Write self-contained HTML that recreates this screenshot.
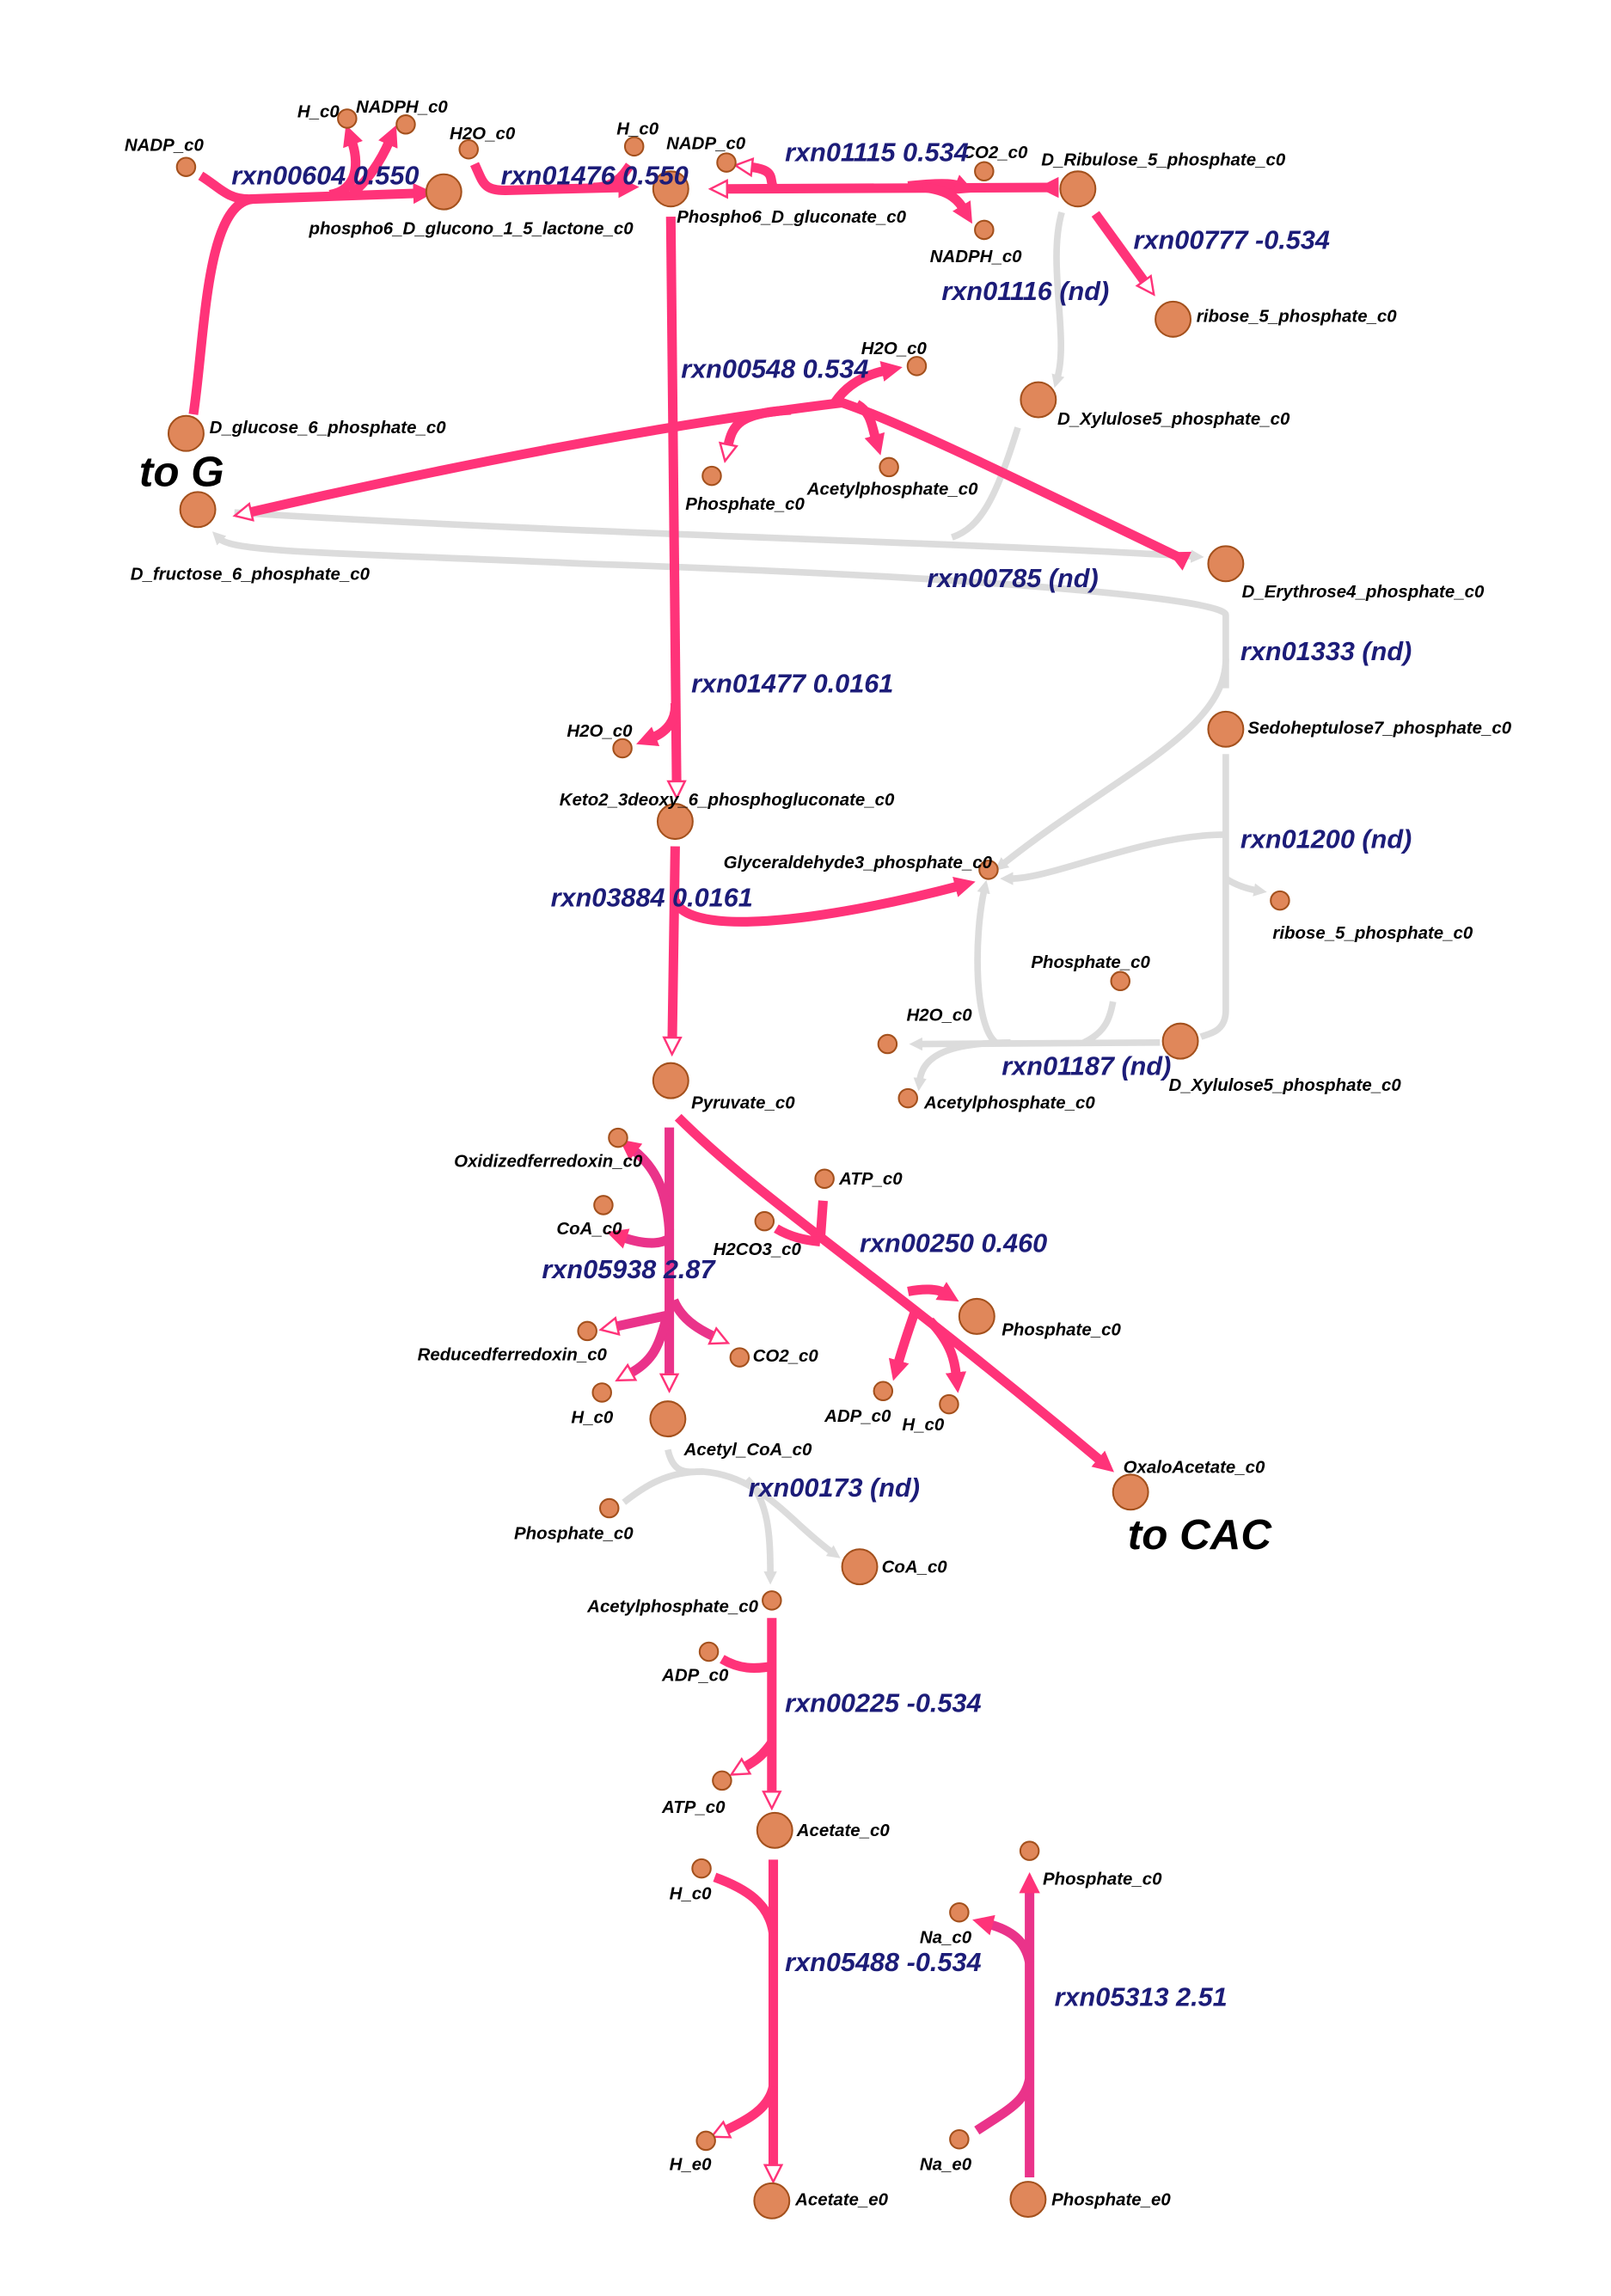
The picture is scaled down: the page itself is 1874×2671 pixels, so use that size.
<!DOCTYPE html>
<html><head><meta charset="utf-8"><style>
html,body{margin:0;padding:0;background:#fff;}
svg{display:block;}
.nl{font-family:"Liberation Sans Narrow","Liberation Sans",sans-serif;font-weight:bold;font-style:italic;font-size:12px;fill:#000;}
.rl{font-family:"Liberation Sans",sans-serif;font-weight:bold;font-style:italic;font-size:18px;fill:#1c1c78;}
.big{font-family:"Liberation Sans",sans-serif;font-weight:bold;font-style:italic;font-size:29px;fill:#000;}
.p{fill:none;stroke:#ff3379;stroke-width:6.5;stroke-linecap:butt;}
.p2{fill:none;stroke:#ea338a;stroke-width:6.5;}
.g{fill:none;stroke:#dcdcdc;stroke-width:4.5;}
</style></head><body>
<svg id="net" width="1874" height="2671" viewBox="0 0 1100 1568" xmlns="http://www.w3.org/2000/svg">
<defs>
<marker id="ap" viewBox="0 0 10 10" refX="2" refY="5" markerWidth="2.2" markerHeight="2.2" orient="auto"><path d="M0,0L10,5L0,10z" fill="#ff3379"/></marker>
<marker id="ah" viewBox="0 0 10 10" refX="2" refY="5" markerWidth="2.2" markerHeight="2.2" orient="auto"><path d="M1,1L9,5L1,9z" fill="#fff" stroke="#ff3379" stroke-width="1"/></marker>
<marker id="ag" viewBox="0 0 10 10" refX="2" refY="5" markerWidth="2" markerHeight="2" orient="auto"><path d="M0,0L10,5L0,10z" fill="#dcdcdc"/></marker>
</defs>
<g>
<path class="g" d="M725,145 C715,180 730,230 722,258" marker-end="url(#ag)"/>
<path class="g" d="M160,350 C400,365 650,370 815,380" marker-end="url(#ag)"/>
<path class="g" d="M695,292 C680,340 670,360 650,367"/>
<path class="g" d="M837,470 L837,420 C837,410 700,395 400,385 C250,378 160,378 150,368" marker-end="url(#ag)"/>
<path class="g" d="M837,450 C837,500 760,530 685,590" marker-end="url(#ag)"/>
<path class="g" d="M837,515 L837,690 C837,705 825,706 820,708" />
<path class="g" d="M837,570 C780,570 720,600 690,600" marker-end="url(#ag)"/>
<path class="g" d="M837,600 C845,605 852,607 858,608" marker-end="url(#ag)"/>
<path class="g" d="M792,712 L628,713" marker-end="url(#ag)"/>
<path class="g" d="M680,712 C665,700 665,640 672,608" marker-end="url(#ag)"/>
<path class="g" d="M740,712 C755,705 758,695 760,684"/>
<path class="g" d="M690,712 C650,712 630,720 628,738" marker-end="url(#ag)"/>
<path class="g" d="M456,990 C460,1008 470,1005 480,1005 C520,1008 540,1040 568,1060" marker-end="url(#ag)"/>
<path class="g" d="M426,1026 C440,1015 455,1005 480,1005"/>
<path class="g" d="M510,1010 C525,1025 526,1050 526,1075" marker-end="url(#ag)"/>
</g>
<g>
<path class="p" d="M137,120 C150,128 155,136 170,136 L285,132" marker-end="url(#ap)"/>
<path class="p" d="M132,283 C140,230 140,140 172,136"/>
<path class="p" d="M225,133 C245,130 245,110 240,96" marker-end="url(#ap)"/>
<path class="p" d="M240,132 C250,125 260,110 266,96" marker-end="url(#ap)"/>
<path class="p" d="M324,112 C330,125 330,130 345,130 L425,128" marker-end="url(#ap)"/>
<path class="p" d="M405,128 C420,128 425,120 430,113" />
<path class="p" d="M720,128 L495,129" marker-start="url(#ap)" marker-end="url(#ah)"/>
<path class="p" d="M528,128 C525,122 530,116 512,114" marker-end="url(#ah)"/>
<path class="p" d="M620,127 C640,125 650,125 655,127" marker-end="url(#ap)"/>
<path class="p" d="M630,128 C650,130 655,138 658,143" marker-end="url(#ap)"/>
<path class="p" d="M748,146 L782,193" marker-end="url(#ah)"/>
<path class="p" d="M458,148 L462,535" marker-end="url(#ah)"/>
<path class="p" d="M461,480 C462,492 455,500 445,504" marker-end="url(#ap)"/>
<path class="p" d="M808,382 C720,340 620,290 575,275 C450,290 300,320 170,350" marker-start="url(#ap)" marker-end="url(#ah)"/>
<path class="p" d="M570,275 C580,260 595,255 605,253" marker-end="url(#ap)"/>
<path class="p" d="M540,280 C505,282 500,290 497,305" marker-end="url(#ah)"/>
<path class="p" d="M585,276 C595,282 595,290 598,300" marker-end="url(#ap)"/>
<path class="p" d="M461,578 L459,710" marker-end="url(#ah)"/>
<path class="p" d="M461,615 C470,640 560,630 655,605" marker-end="url(#ap)"/>
<path class="p2" d="M457,770 L457,940" marker-end="url(#ah)"/>
<path class="p2" d="M457,840 C455,810 445,795 432,785" marker-end="url(#ap)"/>
<path class="p2" d="M457,846 C450,850 440,850 425,845" marker-end="url(#ap)"/>
<path class="p2" d="M457,898 L420,906" marker-end="url(#ah)"/>
<path class="p2" d="M455,900 C450,920 445,930 430,938" marker-end="url(#ah)"/>
<path class="p2" d="M460,888 C465,900 475,907 488,913" marker-end="url(#ah)"/>
<path class="p" d="M463,763 C520,820 600,870 752,998" marker-end="url(#ap)"/>
<path class="p" d="M562,820 L560,848"/>
<path class="p" d="M530,839 C540,845 550,847 560,848"/>
<path class="p" d="M620,882 C630,880 640,880 645,883" marker-end="url(#ap)"/>
<path class="p" d="M625,895 C618,915 615,925 613,932" marker-end="url(#ap)"/>
<path class="p" d="M635,902 C650,918 652,930 653,940" marker-end="url(#ap)"/>
<path class="p" d="M527,1105 L527,1225" marker-end="url(#ah)"/>
<path class="p" d="M493,1133 C505,1140 515,1140 527,1138"/>
<path class="p" d="M527,1190 C520,1200 515,1203 508,1207" marker-end="url(#ah)"/>
<path class="p" d="M528,1270 L528,1480" marker-end="url(#ah)"/>
<path class="p" d="M488,1282 C510,1290 525,1300 528,1320"/>
<path class="p" d="M528,1425 C525,1440 510,1448 495,1455" marker-end="url(#ah)"/>
<path class="p2" d="M703,1487 L703,1290" marker-end="url(#ap)"/>
<path class="p2" d="M667,1455 C690,1440 700,1435 703,1420"/>
<path class="p2" d="M703,1340 C700,1325 690,1318 675,1314" marker-end="url(#ap)"/>
</g>
<g id="nodes"></g>
<g id="rxns"></g>
<text class="big" x="95" y="332">to G</text>
<text class="big" x="770" y="1058">to CAC</text>
</svg>
<script>
const nodeNames=["NADP_c0","H_c0","NADPH_c0","H2O_c0","phospho6_D_glucono_1_5_lactone_c0","H_c0","NADP_c0","Phospho6_D_gluconate_c0","CO2_c0","NADPH_c0","D_Ribulose_5_phosphate_c0","ribose_5_phosphate_c0","H2O_c0","D_Xylulose5_phosphate_c0","Phosphate_c0","Acetylphosphate_c0","D_glucose_6_phosphate_c0","D_fructose_6_phosphate_c0","D_Erythrose4_phosphate_c0","Sedoheptulose7_phosphate_c0","H2O_c0","Keto2_3deoxy_6_phosphogluconate_c0","Glyceraldehyde3_phosphate_c0","ribose_5_phosphate_c0","Phosphate_c0","H2O_c0","Acetylphosphate_c0","D_Xylulose5_phosphate_c0","Pyruvate_c0","Oxidizedferredoxin_c0","CoA_c0","ATP_c0","H2CO3_c0","Phosphate_c0","Reducedferredoxin_c0","CO2_c0","H_c0","Acetyl_CoA_c0","ADP_c0","H_c0","OxaloAcetate_c0","Phosphate_c0","CoA_c0","Acetylphosphate_c0","ADP_c0","ATP_c0","Acetate_c0","H_c0","Na_c0","Phosphate_c0","H_e0","Acetate_e0","Na_e0","Phosphate_e0"];
const nodePos=[[127,114],[237,81],[277,85],[320,102],[303,131],[433,100],[496,111],[458,129],[672,117],[672,157],[736,129],[801,218],[626,250],[709,273],[486,325],[607,319],[127,296],[135,348],[837,385],[837,498],[425,511],[461,561],[675,594],[874,615],[765,670],[606,713],[620,750],[806,711],[458,738],[422,777],[412,823],[563,805],[522,834],[667,899],[401,909],[505,927],[411,951],[456,969],[603,950],[648,959],[772,1019],[416,1030],[587,1070],[527,1093],[484,1128],[493,1216],[529,1250],[479,1276],[655,1306],[703,1264],[482,1462],[527,1503],[655,1461],[702,1502]];
const nodeBig=[0,0,0,0,1,0,0,1,0,0,1,1,0,1,0,0,1,1,1,1,0,1,0,0,0,0,0,1,1,0,0,0,0,1,0,0,0,1,0,0,1,0,1,0,0,0,1,0,0,0,0,1,0,1];
const labelPos=[[85,100],[203,77],[243,74],[307,92],[211,157],[421,89],[455,99],[462,149],[657,105],[635,176],[711,110],[817,217],[588,239],[722,287],[468,345],[551,335],[143,293],[89,393],[848,405],[852,498],[387,500],[382,547],[494,590],[869,638],[704,658],[619,694],[631,754],[798,742],[472,754],[310,794],[380,840],[573,806],[487,854],[684,909],[285,926],[514,927],[390,969],[467,991],[563,968],[616,974],[767,1003],[351,1048],[602,1071],[401,1098],[452,1145],[452,1235],[544,1251],[457,1294],[628,1324],[712,1284],[457,1479],[543,1503],[628,1479],[718,1503]];
const rxnText=["rxn00604 0.550","rxn01476 0.550","rxn01115 0.534","rxn00777 -0.534","rxn01116 (nd)","rxn00548 0.534","rxn00785 (nd)","rxn01333 (nd)","rxn01477 0.0161","rxn01200 (nd)","rxn03884 0.0161","rxn01187 (nd)","rxn00250 0.460","rxn05938 2.87","rxn00173 (nd)","rxn00225 -0.534","rxn05488 -0.534","rxn05313 2.51"];
const rxnPos=[[158,126],[342,126],[536,110],[774,170],[643,205],[465,258],[633,401],[847,451],[472,473],[847,579],[376,619],[684,734],[587,855],[370,873],[511,1022],[536,1169],[536,1346],[720,1370]];
const NS="http://www.w3.org/2000/svg";
const ng=document.getElementById('nodes');
nodeNames.forEach((n,i)=>{
  const c=document.createElementNS(NS,'circle');
  c.setAttribute('cx',nodePos[i][0]);c.setAttribute('cy',nodePos[i][1]);
  c.setAttribute('r',nodeBig[i]?12:6.3);
  c.setAttribute('fill','#e0875a');c.setAttribute('stroke','#a3501c');c.setAttribute('stroke-width','1.2');
  
  
  ng.appendChild(c);
  const t=document.createElementNS(NS,'text');
  t.setAttribute('class','nl');t.setAttribute('x',labelPos[i][0]);t.setAttribute('y',labelPos[i][1]+3);
  t.textContent=n;
  
  
  ng.appendChild(t);
});
const rg=document.getElementById('rxns');
rxnText.forEach((r,i)=>{
  const t=document.createElementNS(NS,'text');
  t.setAttribute('class','rl');t.setAttribute('x',rxnPos[i][0]);t.setAttribute('y',rxnPos[i][1]);
  t.textContent=r;
  
  
  rg.appendChild(t);
});
</script>
</body></html>
